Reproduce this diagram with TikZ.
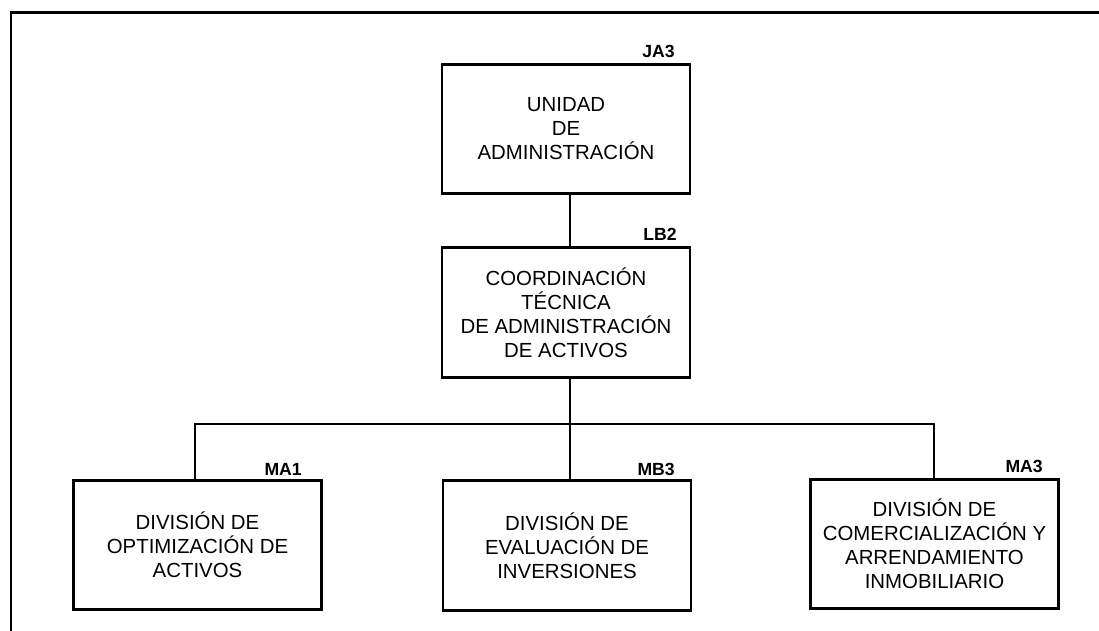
\documentclass[tikz,border=0pt]{standalone}
\usepackage{fontspec}
\setmainfont{Liberation Sans}
\begin{document}
\begin{tikzpicture}[x=0.75pt,y=-0.75pt,
  unitbox/.style={draw=black,line width=2.1pt,fill=white,minimum width=186pt,minimum height=97pt,
    align=center,inner sep=0pt,font=\fontsize{15.3pt}{18pt}\selectfont},
  codelabel/.style={anchor=base east,inner sep=0pt,font=\fontsize{13.2pt}{15pt}\selectfont\bfseries},
  conn/.style={line width=2.1pt},
  frameline/.style={line width=2pt}]
\useasboundingbox (0,0) rectangle (1099,631);
% frame
\coordinate (fbl) at (11,640);
\coordinate (ftl) at (11,12.5);
\coordinate (ftr) at (1110,12.5);
\draw[frameline] (fbl) -- (ftl) -- (ftr);
% boxes
\node[unitbox] (top) at (566,129) {UNIDAD\\DE\\ADMINISTRACIÓN};
\node[unitbox] (mid) at (566,312.5) {COORDINACIÓN\\TÉCNICA\\DE ADMINISTRACIÓN\\DE ACTIVOS};
\node[unitbox] (b1) at (197.5,545) {DIVISIÓN DE\\OPTIMIZACIÓN DE\\ACTIVOS};
\node[unitbox] (b2) at (567,545.5) {DIVISIÓN DE\\EVALUACIÓN DE\\INVERSIONES};
\node[unitbox] (b3) at (934.5,544) {DIVISIÓN DE\\COMERCIALIZACIÓN Y\\ARRENDAMIENTO\\INMOBILIARIO};
% labels
\node[codelabel] (ja3) at (675,58) {JA3};
\node[codelabel] (lb2) at (677,240) {LB2};
\node[codelabel] (ma1) at (302,475) {MA1};
\node[codelabel] (mb3) at (675,475) {MB3};
\node[codelabel] (ma3) at (1043,472) {MA3};
% connectors
\coordinate (bus) at (570,424);
\coordinate (busl) at (195,424);
\coordinate (busr) at (934,424);
\draw[conn] (top.south -| bus) -- (mid.north -| bus);
\draw[conn] (mid.south -| bus) -- (bus) -- (b2.north -| bus);
\draw[conn] (b1.north -| busl) -- (busl) -- (busr) -- (b3.north -| busr);
\end{tikzpicture}
\end{document}
